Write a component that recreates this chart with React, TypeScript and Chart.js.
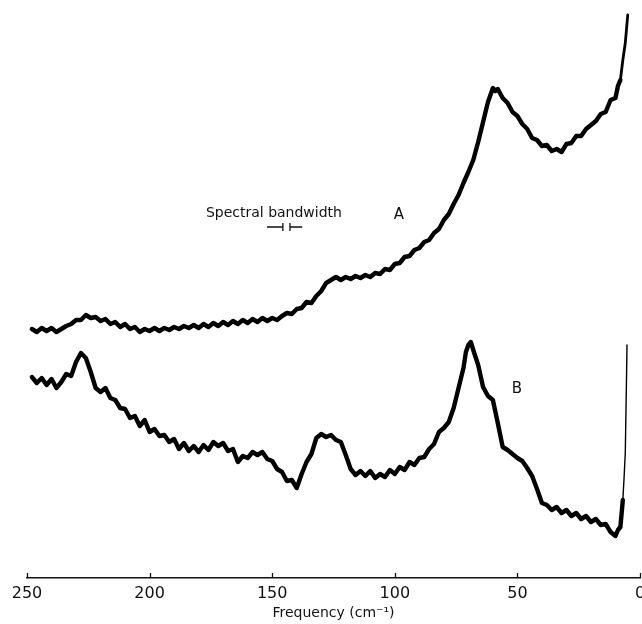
import React, { useEffect, useRef } from "react";
import { Chart, registerables } from "chart.js";

Chart.register(...registerables);

// Frequency (cm^-1) and relative intensity for trace A
const freqA = [248, 246, 244, 242, 240, 238, 236, 234, 232, 230, 228, 226, 224, 222, 220, 218, 216, 214, 212, 210, 208, 206, 204, 202, 200, 198, 196, 194, 192, 190, 188, 186, 184, 182, 180, 178, 176, 174, 172, 170, 168, 166, 164, 162, 160, 158, 156, 154, 152, 150, 148, 146, 144, 142, 140, 138, 136, 134, 132, 130, 128, 126, 124, 122, 120, 118, 116, 114, 112, 110, 108, 106, 104, 102, 100, 98, 96, 94, 92, 90, 88, 86, 84, 82, 80, 78, 76, 74, 72, 70, 68, 66, 64, 62, 60, 59, 58, 56, 54, 52, 50, 48, 46, 44, 42, 40, 38, 36, 34, 32, 30, 28, 26, 24, 22, 20, 18, 16, 14, 12, 10, 9, 8, 7, 6, 5];
const valA = [24.9, 24.6, 25.0, 24.7, 25.0, 24.6, 24.9, 25.2, 25.4, 25.8, 25.8, 26.3, 26.0, 26.1, 25.7, 25.9, 25.4, 25.6, 25.1, 25.4, 24.9, 25.1, 24.6, 24.9, 24.7, 25.0, 24.7, 25.0, 24.8, 25.1, 24.9, 25.2, 25.0, 25.3, 25.0, 25.4, 25.1, 25.5, 25.2, 25.6, 25.3, 25.7, 25.4, 25.8, 25.5, 25.9, 25.6, 26.0, 25.7, 26.0, 25.8, 26.2, 26.5, 26.4, 26.9, 27.0, 27.6, 27.5, 28.2, 28.7, 29.5, 29.8, 30.1, 29.8, 30.1, 29.9, 30.2, 30.0, 30.3, 30.1, 30.5, 30.4, 30.9, 30.8, 31.4, 31.5, 32.1, 32.2, 32.8, 33.0, 33.6, 33.8, 34.5, 34.9, 35.8, 36.4, 37.4, 38.3, 39.5, 40.6, 41.8, 43.6, 45.6, 47.6, 49.0, 48.7, 48.9, 48.0, 47.5, 46.6, 46.2, 45.4, 44.9, 44.0, 43.8, 43.2, 43.3, 42.7, 42.9, 42.6, 43.4, 43.5, 44.2, 44.2, 44.9, 45.3, 45.7, 46.4, 46.6, 47.8, 48.0, 49.2, 49.8, 51.8, 53.5, 56.3];

// Frequency (cm^-1) and relative intensity for trace B
const freqB = [248, 246, 244, 242, 240, 238, 236, 234, 232, 230, 228, 226, 224, 222, 220, 218, 216, 214, 212, 210, 208, 206, 204, 202, 200, 198, 196, 194, 192, 190, 188, 186, 184, 182, 180, 178, 176, 174, 172, 170, 168, 166, 164, 162, 160, 158, 156, 154, 152, 150, 148, 146, 144, 142, 140, 138, 136, 134, 132, 130, 128, 126, 124, 122, 120, 118, 116, 114, 112, 110, 108, 106, 104, 102, 100, 98, 96, 94, 92, 90, 88, 86, 84, 82, 80, 78, 76, 74, 72, 71, 70, 69, 68, 66, 64, 62, 60, 58, 56, 54, 52, 50, 48, 46, 44, 42, 40, 38, 36, 34, 32, 30, 28, 26, 24, 22, 20, 18, 16, 14, 12, 10, 9, 8, 7, 6.5, 6, 5.5, 5.3];
const valB = [20.1, 19.5, 20.0, 19.3, 19.9, 19.0, 19.6, 20.4, 20.2, 21.6, 22.5, 22.0, 20.6, 19.0, 18.6, 19.0, 18.0, 17.8, 17.0, 16.9, 16.0, 16.2, 15.2, 15.8, 14.6, 14.9, 14.2, 14.3, 13.6, 13.9, 12.9, 13.5, 12.7, 13.2, 12.6, 13.3, 12.8, 13.6, 13.2, 13.5, 12.7, 12.9, 11.6, 12.2, 12.0, 12.6, 12.3, 12.6, 11.9, 11.7, 10.9, 10.6, 9.7, 9.8, 9.0, 10.4, 11.6, 12.4, 14.0, 14.4, 14.1, 14.3, 13.8, 13.6, 12.3, 10.9, 10.3, 10.7, 10.2, 10.7, 10.0, 10.4, 10.1, 10.8, 10.4, 11.1, 10.8, 11.6, 11.3, 12.0, 12.1, 12.9, 13.4, 14.6, 15.0, 15.6, 17.0, 19.0, 21.0, 22.6, 23.3, 23.6, 22.8, 21.3, 19.1, 18.2, 17.8, 15.5, 13.1, 12.8, 12.4, 12.0, 11.7, 11.0, 10.2, 8.9, 7.5, 7.3, 6.8, 7.1, 6.5, 6.8, 6.2, 6.5, 5.9, 6.2, 5.6, 5.9, 5.3, 5.4, 4.6, 4.2, 4.8, 5.1, 7.8, 10.0, 12.5, 20.0, 23.3];

const xTicks = [250, 200, 150, 100, 50, 0];
const xTitle = "Frequency (cm\u207B\u00B9)";
const traceLabels = ["A", "B"];
const labelFreq = [98.3, 50.2];
const labelVal = [36.3, 18.9];
const bandwidthText = "Spectral bandwidth";
const bandwidthTextAt = [149.3, 36.5];
const bandwidthCenter = 144.2;
const bandwidthWidth = 2.9;
const bandwidthVal = 35.1;

const FONT = "'DejaVu Sans', sans-serif";

const annotate = {
  id: "annotate",
  afterDraw(chart: any) {
    const { ctx, scales } = chart;
    const xs = scales.x;
    const ys = scales.y;
    const bottom = chart.chartArea.bottom;
    ctx.save();
    ctx.strokeStyle = "#111";
    ctx.lineWidth = 1.3;
    for (const v of xTicks) {
      const px = Math.round(xs.getPixelForValue(v)) + 0.5;
      ctx.beginPath();
      ctx.moveTo(px, bottom);
      ctx.lineTo(px, bottom - 5);
      ctx.stroke();
    }
    ctx.fillStyle = "#111";
    ctx.textAlign = "center";
    ctx.textBaseline = "middle";
    ctx.font = `15px ${FONT}`;
    traceLabels.forEach((t, i) => {
      ctx.fillText(t, xs.getPixelForValue(labelFreq[i]), ys.getPixelForValue(labelVal[i]));
    });
    ctx.font = `14px ${FONT}`;
    ctx.fillText(bandwidthText, xs.getPixelForValue(bandwidthTextAt[0]), ys.getPixelForValue(bandwidthTextAt[1]));
    const b1 = xs.getPixelForValue(bandwidthCenter + bandwidthWidth / 2);
    const b2 = xs.getPixelForValue(bandwidthCenter - bandwidthWidth / 2);
    const arm1 = xs.getPixelForValue(bandwidthCenter + bandwidthWidth / 2 + 6.5);
    const arm2 = xs.getPixelForValue(bandwidthCenter - bandwidthWidth / 2 - 5);
    const by = ys.getPixelForValue(bandwidthVal);
    ctx.lineWidth = 1.3;
    ctx.beginPath();
    ctx.moveTo(arm1, by);
    ctx.lineTo(b1, by);
    ctx.moveTo(b1, by - 4);
    ctx.lineTo(b1, by + 4);
    ctx.moveTo(b2, by - 4);
    ctx.lineTo(b2, by + 4);
    ctx.moveTo(b2, by);
    ctx.lineTo(arm2, by);
    ctx.stroke();
    ctx.restore();
  },
};

export default function App() {
  const ref = useRef<HTMLCanvasElement | null>(null);
  useEffect(() => {
    if (!ref.current) return;
    const mk = (f: number[], v: number[]) => f.map((x, i) => ({ x, y: v[i] }));
    const chart = new Chart(ref.current, {
      type: "line",
      data: {
        datasets: [
          {
            label: "A",
            data: mk(freqA, valA),
            borderColor: "#000",
            borderWidth: 4.4,
            borderJoinStyle: "round",
            borderCapStyle: "round",
            pointRadius: 0,
            tension: 0,
            segment: {
              borderWidth: (c: any) => (c.p0.parsed.x <= 8 ? 2.8 : 4.4),
            },
          },
          {
            label: "B",
            data: mk(freqB, valB),
            borderColor: "#000",
            borderWidth: 4.4,
            borderJoinStyle: "round",
            borderCapStyle: "round",
            pointRadius: 0,
            tension: 0,
            segment: {
              borderWidth: (c: any) => (c.p0.parsed.x <= 7 ? 1.4 : 4.4),
            },
          },
        ],
      },
      options: {
        animation: false,
        responsive: false,
        devicePixelRatio: 1,
        layout: { padding: { left: 27, right: 2, top: 0, bottom: 0 } },
        plugins: { legend: { display: false }, tooltip: { enabled: false } },
        scales: {
          x: {
            type: "linear",
            min: 0,
            max: 250,
            reverse: true,
            grid: { display: false, drawTicks: false },
            border: { display: true, color: "#111", width: 1.5 },
            ticks: {
              color: "#111",
              font: { family: FONT, size: 16 },
              padding: 6,
              maxRotation: 0,
              autoSkip: false,
              callback: (v: any) => String(v),
            },
            title: {
              display: true,
              text: xTitle,
              color: "#111",
              font: { family: FONT, size: 14 },
              padding: { top: 0, bottom: 2 },
            },
            afterBuildTicks: (s: any) => {
              s.ticks = xTicks.map((value) => ({ value }));
            },
            afterFit: (s: any) => {
              s.height = 46;
              s.paddingLeft = 0;
              s.paddingRight = 0;
            },
          },
          y: { display: false, min: 0, max: 57.8 },
        },
      },
      plugins: [annotate],
    } as any);
    return () => chart.destroy();
  }, []);
  return (
    <div style={{ position: "fixed", left: 0, top: 0, width: 642, height: 624, overflow: "hidden", background: "#fff" }}>
      <canvas ref={ref} width={642} height={624} style={{ display: "block", width: 642, height: 624 }} />
    </div>
  );
}
